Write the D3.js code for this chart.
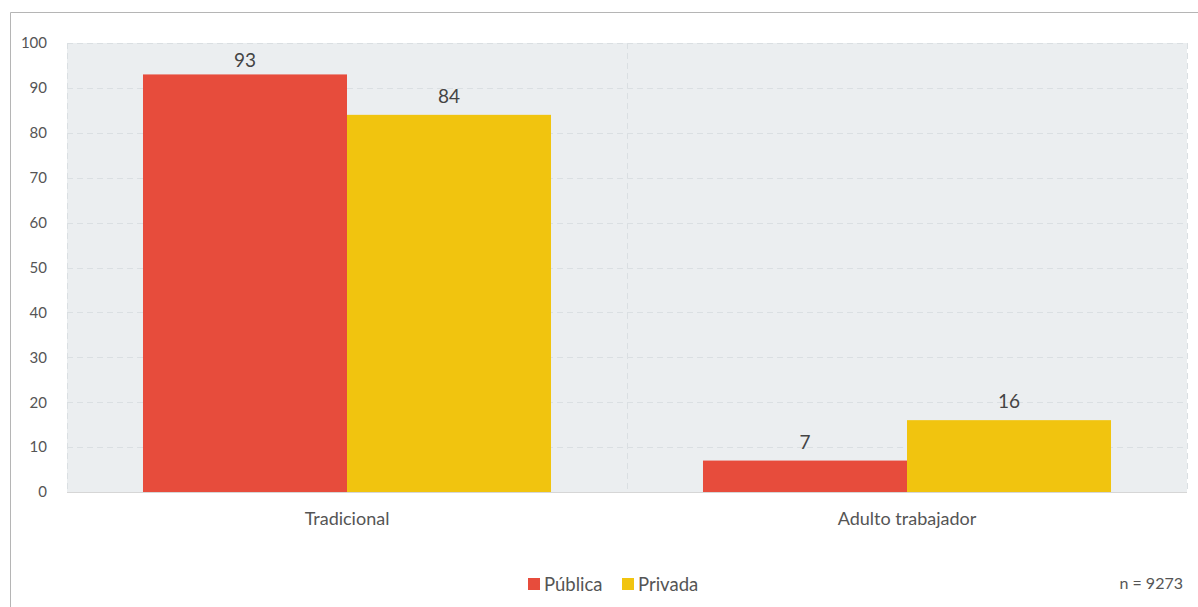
<!DOCTYPE html>
<html>
<head>
<meta charset="utf-8">
<script src="https://cdn.jsdelivr.net/npm/d3@7"></script>
<style>
  html, body { margin: 0; padding: 0; background: #fff; }
  svg { display: block; font-family: Lato, "Open Sans", sans-serif; }
</style>
</head>
<body>
<svg id="chart" width="1198" height="607"></svg>
<script>
// Matrícula por modalidad y tipo de institución (%)
const categories = ["Tradicional", "Adulto trabajador"];
const seriesNames = ["Pública", "Privada"];
const publica = [93, 7];
const privada = [84, 16];
const yTicks = [0, 10, 20, 30, 40, 50, 60, 70, 80, 90, 100];
const sampleNote = "n = 9273";

const colors = { "Pública": "#e74c3c", "Privada": "#f1c40f" };
const values = { "Pública": publica, "Privada": privada };

const svg = d3.select("#chart");
const W = 1198, H = 607;
const plot = { left: 67, right: 1187, top: 43, bottom: 492 };

// card outline (top and left edges)
svg.append("path")
  .attr("d", `M10.5,${H} V12.5 H${W}`)
  .attr("fill", "none")
  .attr("stroke", "#b5b5b5")
  .attr("stroke-width", 1);

const x0 = d3.scaleBand().domain(categories).range([plot.left, plot.right]).paddingInner(0).paddingOuter(0);
const x1 = d3.scaleBand().domain(seriesNames).range([0, x0.bandwidth()]).paddingInner(0).paddingOuter(0.3725);
const y = d3.scaleLinear().domain([0, 100]).range([plot.bottom, plot.top]);

// plot background
svg.append("rect")
  .attr("x", plot.left).attr("y", plot.top)
  .attr("width", plot.right - plot.left).attr("height", plot.bottom - plot.top)
  .attr("fill", "#ebeef0");

// horizontal grid
svg.append("g").selectAll("line").data(yTicks.filter(d => d > 0)).join("line")
  .attr("x1", plot.left).attr("x2", plot.right)
  .attr("y1", d => Math.round(y(d)) + 0.5).attr("y2", d => Math.round(y(d)) + 0.5)
  .attr("stroke", "#dadfe2").attr("stroke-dasharray", "6,4");

// vertical grid at category boundaries
const vx = [plot.left, ...categories.map(c => x0(c) + x0.bandwidth())];
svg.append("g").selectAll("line").data(vx).join("line")
  .attr("x1", d => Math.round(d) + 0.5).attr("x2", d => Math.round(d) + 0.5)
  .attr("y1", plot.top).attr("y2", plot.bottom)
  .attr("stroke", "#dadfe2").attr("stroke-dasharray", "6,4");

// y axis labels
const yAxis = d3.axisLeft(y).tickValues(yTicks).tickSize(0).tickPadding(20);
const gy = svg.append("g").attr("transform", `translate(${plot.left},0)`).call(yAxis);
gy.select(".domain").remove();
gy.selectAll("text").attr("fill", "#555").attr("font-size", 15).attr("font-family", "Lato, sans-serif");

// bars
const groups = svg.append("g").selectAll("g").data(categories).join("g")
  .attr("transform", d => `translate(${x0(d)},0)`);

groups.selectAll("rect")
  .data((c, i) => seriesNames.map(s => ({ s, v: values[s][i] })))
  .join("rect")
  .attr("x", d => x1(d.s))
  .attr("y", d => y(d.v))
  .attr("width", x1.bandwidth())
  .attr("height", d => y(0) - y(d.v))
  .attr("fill", d => colors[d.s]);

// value labels above bars, kept inside the plot area
groups.selectAll("text")
  .data((c, i) => seriesNames.map(s => ({ s, v: values[s][i] })))
  .join("text")
  .attr("x", d => x1(d.s) + x1.bandwidth() / 2)
  .attr("y", d => Math.max(y(d.v) - 12, plot.top + 24))
  .attr("text-anchor", "middle")
  .attr("fill", "#444")
  .attr("font-size", 19)
  .text(d => d.v);

// baseline
svg.append("line")
  .attr("x1", plot.left).attr("x2", plot.right)
  .attr("y1", plot.bottom + 0.5).attr("y2", plot.bottom + 0.5)
  .attr("stroke", "#d6d6d6");

// category labels
const xAxis = d3.axisBottom(x0).tickSize(0).tickPadding(20);
const gx = svg.append("g").attr("transform", `translate(0,${plot.bottom})`).call(xAxis);
gx.select(".domain").remove();
gx.selectAll("text").attr("fill", "#555").attr("font-size", 18).attr("font-family", "Lato, sans-serif");

// legend
const legendX = [528, 622];
const legend = svg.append("g").selectAll("g").data(seriesNames).join("g")
  .attr("transform", (d, i) => `translate(${legendX[i]},578)`);
legend.append("rect").attr("width", 12).attr("height", 12).attr("fill", d => colors[d]);
legend.append("text").attr("x", 16).attr("y", 12.5)
  .attr("fill", "#555").attr("font-size", 18.5).text(d => d);

// sample size note
svg.append("text")
  .attr("x", 1183).attr("y", 589)
  .attr("text-anchor", "end")
  .attr("fill", "#555").attr("font-size", 16)
  .text(sampleNote);
</script>
</body>
</html>
